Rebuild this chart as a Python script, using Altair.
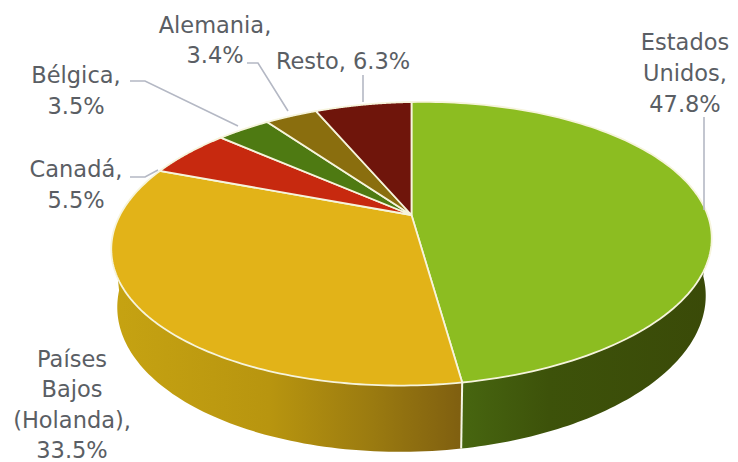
import math
import altair as alt
import pandas as pd

# ---- data
countries = ["Estados Unidos", "Países Bajos (Holanda)", "Canadá", "Bélgica", "Alemania", "Resto"]
shares = [47.8, 33.5, 5.5, 3.5, 3.4, 6.3]
label_lines = [
    ["Estados", "Unidos,", "47.8%"],
    ["Países", "Bajos", "(Holanda),", "33.5%"],
    ["Canadá,", "5.5%"],
    ["Bélgica,", "3.5%"],
    ["Alemania,", "3.4%"],
    ["Resto, 6.3%"],
]

# ---- styles and placement
top_colors = ["#8CBD21", "#E2B318", "#C7290F", "#4E7A12", "#8A6E0E", "#6F150B"]
label_anchor = [(685, 50), (72, 367), (76, 177), (76, 83), (215, 33), (343, 69)]
line_gaps = [31, 30.3, 31, 31, 30, 31]
font = "DejaVu Sans"
font_size = 22.5
text_color = "#5A5E64"
leader_color = "#B4B8C4"
leaders = [
    [(704, 117), (704, 210)],
    [(130, 177), (145, 177), (158, 170)],
    [(130, 81), (145, 81), (238, 126)],
    [(247, 63), (258, 63), (288, 111)],
    [(363, 75), (363, 102)],
]

# pie geometry: a disc seen in perspective
CX, CY = 411.5, 215
B, A, K, SHEAR = 294, 135.9, 0.2027, 0.018
LOW_SX, LOW_SY, LOW_DY = 0.98, 1.06, 56
W, H = 722, 454


def rim(share_pos, low=False):
    t = 2 * math.pi * share_pos
    u, v = math.sin(t), math.cos(t)
    d = 1 + K * v
    x, y = B * u / d, -A * v / d
    y -= SHEAR * x
    if low:
        x, y = x * LOW_SX, y * LOW_SY + LOW_DY
    return CX + x, CY + y


total = sum(shares)
edges = [0.0]
for s in shares:
    edges.append(edges[-1] + s / total)


def steps(a, b, n=80):
    return [a + (b - a) * i / n for i in range(n + 1)]


x_scale = alt.Scale(domain=[8, 8 + W], range=[0, W], nice=False, zero=False)
y_scale = alt.Scale(domain=[8, 8 + H], range=[0, H], nice=False, zero=False)


def poly(points, fill, stroke=None, sw=0.0):
    df = pd.DataFrame({"x": [p[0] for p in points], "y": [p[1] for p in points], "i": range(len(points))})
    return alt.Chart(df).mark_line(
        fill=fill, filled=False, stroke=stroke or "transparent", strokeWidth=sw, clip=False
    ).encode(
        x=alt.X("x:Q", scale=x_scale, axis=None),
        y=alt.Y("y:Q", scale=y_scale, axis=None),
        order="i:Q",
    )


def hgrad(stops):
    return {
        "gradient": "linear", "x1": 0, "x2": 1, "y1": 0, "y2": 0,
        "stops": [{"offset": o, "color": c} for o, c in stops],
    }


layers = []

# sides
front = edges[1]
side_r = steps(0.262, front)
green_side = [rim(p) for p in side_r] + [rim(p, True) for p in reversed(side_r)]
layers.append(poly(green_side + green_side[:1],
                   hgrad([(0, "#476610"), (0.35, "#3D520A"), (1, "#3A4A08")])))
side_l = steps(front, 0.735)
gold_side = [rim(p) for p in side_l] + [rim(p, True) for p in reversed(side_l)]
layers.append(poly(gold_side + gold_side[:1],
                   hgrad([(0, "#C6A312"), (0.45, "#B8950F"), (0.75, "#9A7A10"), (1, "#7F5F10")])))

# white divider on the front of the disc
layers.append(poly([rim(front), rim(front, True)], "transparent", "#F4F6E6", 2))

# top slices
for i in range(len(shares)):
    arc = [rim(p) for p in steps(edges[i], edges[i + 1], 120)]
    pts = [(CX, CY)] + arc + [(CX, CY)]
    layers.append(poly(pts, top_colors[i], "#F6F4DC", 1.8))

# leader lines
for seg in leaders:
    df = pd.DataFrame({"x": [p[0] for p in seg], "y": [p[1] for p in seg], "i": range(len(seg))})
    layers.append(alt.Chart(df).mark_line(color=leader_color, strokeWidth=1.6).encode(
        x=alt.X("x:Q", scale=x_scale, axis=None),
        y=alt.Y("y:Q", scale=y_scale, axis=None),
        order="i:Q",
    ))

# labels
rows = []
for lines, (ax, ay), gap in zip(label_lines, label_anchor, line_gaps):
    for j, t in enumerate(lines):
        rows.append({"x": ax, "y": ay + j * gap, "t": t})
layers.append(alt.Chart(pd.DataFrame(rows)).mark_text(
    font=font, fontSize=font_size, color=text_color, align="center", baseline="alphabetic"
).encode(
    x=alt.X("x:Q", scale=x_scale, axis=None),
    y=alt.Y("y:Q", scale=y_scale, axis=None),
    text="t:N",
))

chart = alt.layer(*layers).properties(
    width=W, height=H, padding=0, background="white",
    autosize=alt.AutoSizeParams(type="none"),
).configure_view(stroke=None)

chart.save("out.html", embed_options={"renderer": "svg", "actions": False})
